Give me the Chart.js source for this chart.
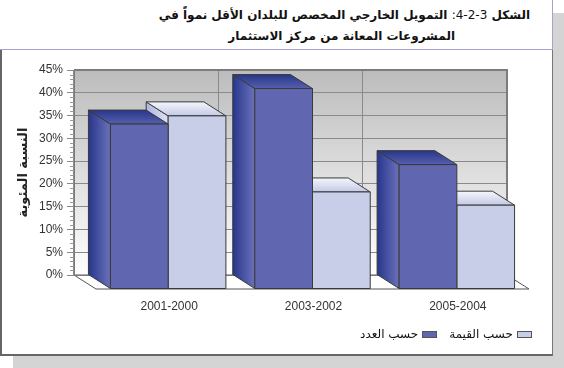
<!DOCTYPE html>
<html lang="ar">
<head>
  <meta charset="UTF-8" />
  <title>التمويل الخارجي المخصص للبلدان الأقل نمواً</title>
  <script src="https://cdn.jsdelivr.net/npm/chart.js"></script>
  <style>
    body { margin: 0; width: 564px; height: 368px; position: relative; overflow: hidden; background: #fff; font-family: "DejaVu Sans", sans-serif; }
    .shadow { position: absolute; left: 13px; top: 13px; width: 551px; height: 355px; background: #d4d4d4; }
    .titlebox { position: absolute; left: 0; top: 0; width: 552px; height: 49px; background: #fff; border-right: 1px solid #a3a3d3; border-bottom: 1px solid #a3a3d3; }
    .panel { position: absolute; left: 0; top: 50px; width: 550px; height: 304px; background: #fff; border-left: 2px solid #666; border-right: 1px solid #777; border-bottom: 2px solid #666; }
    .t { position: absolute; direction: rtl; white-space: nowrap; font-size: 12px; font-weight: bold; color: #111; }
    .t1 { right: 34px; top: 8px; }
    .t2 { right: 109px; top: 29px; }
    .t .n { font-weight: normal; }
    #legend { position: absolute; right: 32px; top: 327px; display: flex; direction: rtl; gap: 12px; font-size: 12px; color: #111; }
    #legend .item { display: flex; align-items: center; }
    #legend .box { width: 13px; height: 5px; border: 1px solid #555; margin-left: 4px; }
    canvas { position: absolute; left: 0; top: 0; }
  </style>
</head>
<body>
  <div class="shadow"></div>
  <div class="titlebox"></div>
  <div class="panel"></div>
  <div class="t t1">الشكل <span class="n">3-2-4:</span> التمويل الخارجي المخصص للبلدان الأقل نمواً في</div>
  <div class="t t2">المشروعات المعانة من مركز الاستثمار</div>
  <canvas id="chart" width="564" height="368"></canvas>
  <div id="legend"></div>

  <script>
    // data
    const categories = ['2001-2000', '2003-2002', '2005-2004'];
    const byCount = [36.2, 44, 27.3];
    const byValue = [38, 21.3, 18.4];
    const seriesNames = ['حسب العدد', 'حسب القيمة'];
    const yMax = 45;
    const yStep = 5;
    const yTitle = 'النسبة المئوية';

    // colours: front, side (dark->light), top (back->front)
    const styles = [
      { front: '#6166b0', side: ['#27358b', '#6a72ba'], top: ['#293689', '#5560ad'] },
      { front: '#c8cee8', side: ['#aeb6dc', '#dde1f2'], top: ['#f5f6fc', '#c3c9e6'] }
    ];
    const DX = 22, DY = 14;

    const bar3d = {
      id: 'bar3d',
      beforeDraw(chart) {
        const { ctx, chartArea: a } = chart;
        ctx.save();
        const g = ctx.createLinearGradient(0, a.top, 0, a.bottom);
        g.addColorStop(0, '#bcbcbc');
        g.addColorStop(1, '#ffffff');
        ctx.fillStyle = g;
        ctx.fillRect(a.left, a.top, a.right - a.left, a.bottom - a.top);
        // floor
        ctx.beginPath();
        ctx.moveTo(a.left, a.bottom);
        ctx.lineTo(a.right, a.bottom);
        ctx.lineTo(a.right + DX, a.bottom + DY);
        ctx.lineTo(a.left + DX, a.bottom + DY);
        ctx.closePath();
        ctx.fillStyle = '#fff';
        ctx.fill();
        ctx.strokeStyle = '#555';
        ctx.lineWidth = 1;
        ctx.stroke();
        ctx.restore();
      },
      beforeDatasetsDraw(chart) {
        const { ctx, chartArea: a, scales: { y } } = chart;
        ctx.save();
        // minor ticks
        ctx.strokeStyle = '#999';
        ctx.lineWidth = 1;
        for (let v = 0; v <= yMax; v++) {
          if (v % yStep === 0) continue;
          const py = Math.round(y.getPixelForValue(v)) + 0.5;
          ctx.beginPath();
          ctx.moveTo(a.left - 4, py);
          ctx.lineTo(a.left, py);
          ctx.stroke();
        }
        // wall top edge
        ctx.strokeStyle = '#7c7c7c';
        ctx.lineWidth = 2;
        ctx.beginPath();
        ctx.moveTo(a.left, a.top);
        ctx.lineTo(a.right, a.top);
        ctx.lineTo(a.right, a.bottom);
        ctx.stroke();
        ctx.restore();
      },
      beforeDatasetDraw() {
        return false;
      },
      afterDatasetsDraw(chart) {
        const ctx = chart.ctx;
        const bars = [];
        chart.data.datasets.forEach((ds, di) => {
          chart.getDatasetMeta(di).data.forEach(el => bars.push({ el, st: styles[di] }));
        });
        bars.sort((p, q) => q.el.x - p.el.x);
        ctx.save();
        ctx.strokeStyle = '#3a3a3a';
        ctx.lineWidth = 1;
        ctx.lineJoin = 'round';
        bars.forEach(({ el, st }) => {
          const l = el.x - el.width / 2, r = el.x + el.width / 2;
          const t = el.y, b = el.base;
          // side
          let g = ctx.createLinearGradient(l, 0, l + DX, 0);
          g.addColorStop(0, st.side[0]);
          g.addColorStop(1, st.side[1]);
          ctx.beginPath();
          ctx.moveTo(l, t); ctx.lineTo(l + DX, t + DY); ctx.lineTo(l + DX, b + DY); ctx.lineTo(l, b);
          ctx.closePath();
          ctx.fillStyle = g; ctx.fill(); ctx.stroke();
          // top
          g = ctx.createLinearGradient(0, t, 0, t + DY);
          g.addColorStop(0, st.top[0]);
          g.addColorStop(1, st.top[1]);
          ctx.beginPath();
          ctx.moveTo(l, t); ctx.lineTo(r, t); ctx.lineTo(r + DX, t + DY); ctx.lineTo(l + DX, t + DY);
          ctx.closePath();
          ctx.fillStyle = g; ctx.fill(); ctx.stroke();
          // front
          ctx.beginPath();
          ctx.rect(l + DX, t + DY, r - l, b - t);
          ctx.fillStyle = st.front; ctx.fill(); ctx.stroke();
        });
        ctx.restore();
      }
    };

    const chart = new Chart(document.getElementById('chart'), {
      type: 'bar',
      data: {
        labels: categories,
        datasets: [
          { label: seriesNames[0], data: byCount, backgroundColor: styles[0].front, borderColor: '#444' },
          { label: seriesNames[1], data: byValue, backgroundColor: styles[1].front, borderColor: '#444' }
        ]
      },
      options: {
        responsive: false,
        animation: false,
        categoryPercentage: 0.8,
        barPercentage: 1.0,
        layout: { padding: { top: 70, right: 57, bottom: 53, left: 0 } },
        plugins: { legend: { display: false }, tooltip: { enabled: false } },
        scales: {
          x: {
            grid: { offset: true, color: '#8a8a8a', drawTicks: false },
            border: { color: '#7a7a7a' },
            ticks: { labelOffset: 23, padding: 24, color: '#333', font: { family: 'Liberation Sans', size: 12 } },
            afterFit: s => { s.height = 40; }
          },
          y: {
            min: 0,
            max: yMax,
            ticks: { stepSize: yStep, padding: 4, color: '#333', font: { family: 'Liberation Sans', size: 12 }, callback: v => v + '%' },
            grid: { color: '#8a8a8a', tickLength: 7, tickColor: '#8a8a8a' },
            border: { color: '#7a7a7a' },
            title: { display: true, text: yTitle, color: '#222', font: { family: 'DejaVu Sans', size: 13, weight: 'bold' }, padding: { top: 16, bottom: 0 } },
            afterFit: s => { s.width = 74; }
          }
        }
      },
      plugins: [bar3d]
    });

    // legend (right to left, as in the source)
    const legend = document.getElementById('legend');
    [1, 0].forEach(i => {
      const item = document.createElement('div');
      item.className = 'item';
      const box = document.createElement('span');
      box.className = 'box';
      box.style.background = styles[i].front;
      const txt = document.createElement('span');
      txt.textContent = seriesNames[i];
      item.appendChild(box);
      item.appendChild(txt);
      legend.appendChild(item);
    });
  </script>
</body>
</html>
